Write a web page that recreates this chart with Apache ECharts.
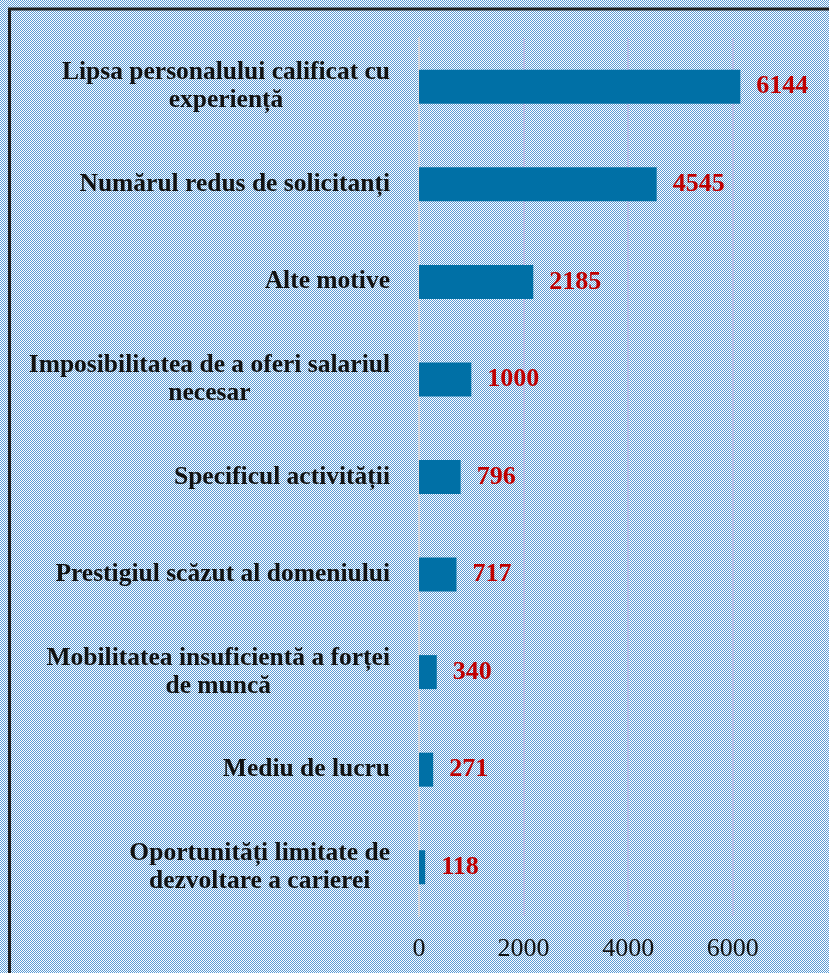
<!DOCTYPE html>
<html>
<head>
<meta charset="utf-8">
<script src="https://cdn.jsdelivr.net/npm/echarts@6/dist/echarts.min.js"></script>
<style>
  html, body { margin: 0; padding: 0; }
  #chart { width: 829px; height: 973px; background-repeat: repeat; image-rendering: pixelated; }
</style>
</head>
<body>
<div id="chart"></div>
<script>
const categories = [
  'Lipsa personalului calificat cu\nexperiență',
  'Numărul redus de solicitanți',
  'Alte motive',
  'Imposibilitatea de a oferi salariul\nnecesar',
  'Specificul activității',
  'Prestigiul scăzut al domeniului',
  'Mobilitatea insuficientă a forței\nde muncă',
  'Mediu de lucru',
  'Oportunități limitate de\ndezvoltare a carierei'
]
const values = [6144, 4545, 2185, 1000, 796, 717, 340, 271, 118]
// the picture is cut at the right edge, a little before 8000
const axisMin = 0
const axisMax = 7840
const axisStep = 2000

// 2x2 checker tile for the page background
const tile = document.createElement('canvas')
tile.width = 2
tile.height = 2
const tctx = tile.getContext('2d')
tctx.fillStyle = '#ffffff'
tctx.fillRect(0, 0, 2, 2)
tctx.fillStyle = '#5b9bd5'
tctx.fillRect(0, 0, 1, 1)
tctx.fillRect(1, 1, 1, 1)
const chartDom = document.getElementById('chart')
chartDom.style.backgroundImage = 'url(' + tile.toDataURL() + ')'

const myChart = echarts.init(chartDom)

const option = {
  animation: false,
  backgroundColor: 'transparent',
  graphic: [
    {
      type: 'rect',
      z: 100,
      silent: true,
      shape: { x: 9.5, y: 9, width: 1000, height: 1100 },
      style: { fill: 'none', stroke: '#1e1e1e', lineWidth: 3 }
    }
  ],
  grid: {
    left: 419,
    right: 0,
    top: 38,
    bottom: 57,
    containLabel: false
  },
  xAxis: {
    type: 'value',
    min: axisMin,
    max: axisMax,
    interval: axisStep,
    axisLine: { show: false },
    axisTick: { show: false },
    splitLine: {
      show: true,
      showMaxLine: false,
      lineStyle: { color: '#b7bce6', width: 2 }
    },
    axisLabel: {
      showMaxLabel: false,
      margin: 20,
      color: '#111',
      fontFamily: 'Liberation Serif',
      fontSize: 26,
      formatter: (value) => String(value)
    }
  },
  yAxis: {
    type: 'category',
    inverse: true,
    data: categories,
    axisTick: { show: false },
    axisLine: {
      show: true,
      lineStyle: { color: '#d6d6dc', width: 2 }
    },
    axisLabel: {
      margin: 29,
      formatter: (value) => value.split('\n').map(line => '{c|' + line + '}').join('\n'),
      rich: {
        c: {
          align: 'center',
          color: '#111',
          fontFamily: 'Liberation Serif',
          fontWeight: 'bold',
          fontSize: 25.5,
          lineHeight: 28
        }
      }
    }
  },
  series: [
    {
      type: 'bar',
      data: values,
      barWidth: 34,
      itemStyle: { color: '#0070a6' },
      label: {
        show: true,
        position: 'right',
        distance: 16,
        color: '#c00000',
        fontFamily: 'Liberation Serif',
        fontWeight: 'bold',
        fontSize: 26
      }
    }
  ]
}

myChart.setOption(option)
</script>
</body>
</html>
